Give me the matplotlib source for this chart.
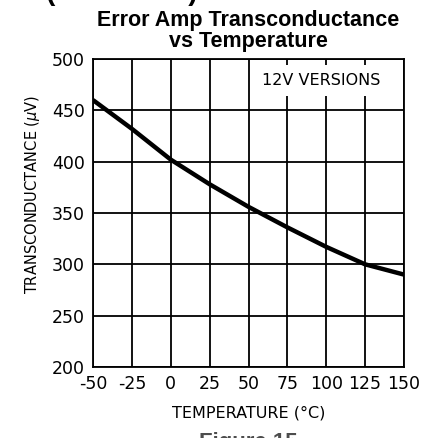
'''
Error amp transconductance vs temperature, datasheet style plot
'''
import matplotlib.pyplot as plt

plt.rcParams['axes.unicode_minus'] = False

temps = [-50, -25, 0, 25, 50, 75, 100, 125, 150]
gm = [460, 432, 402, 378, 356, 336, 317, 300, 290]
x_ticks = [-50, -25, 0, 25, 50, 75, 100, 125, 150]
y_ticks = [200, 250, 300, 350, 400, 450, 500]

W, H = 424, 438
fig = plt.figure(figsize=(W / 100, H / 100), dpi=100)
ax = fig.add_axes([93 / W, 1 - 367 / H, (404 - 93) / W, (367 - 59) / H])

# grid drawn as plain lines so the label box can sit on top of it
for t in x_ticks:
    ax.axvline(t, color='black', lw=1.3, zorder=1)
for v in y_ticks:
    ax.axhline(v, color='black', lw=1.3, zorder=1)

ax.plot(temps, gm, color='black', lw=3.2, zorder=3, solid_capstyle='butt')

ax.text(97, 479, '12V VERSIONS', ha='center', va='center', fontsize=11.5,
        family='DejaVu Sans', zorder=2,
        bbox=dict(boxstyle='square,pad=0.5', fc='white', ec='none'))

ax.set_xlim(-50, 150)
ax.set_ylim(200, 500)
ax.set_xticks(x_ticks)
ax.set_yticks(y_ticks)
ax.tick_params(length=0, labelsize=12.5, pad=6)
for s in ax.spines.values():
    s.set_linewidth(1.3)

ax.set_xlabel('TEMPERATURE (°C)', fontsize=11.5, labelpad=9)
ax.set_ylabel('TRANSCONDUCTANCE ($\\mu$V)', fontsize=10.5)
ax.yaxis.set_label_coords(-0.165, 0.56)
ax.set_title('Error Amp Transconductance\nvs Temperature', fontsize=15.5,
             fontweight='bold', family='Liberation Sans', linespacing=0.95,
             pad=9)

# cut off page text at the edges
fig.text(-0.02, 1 - 6 / H, 'ecs (continued)', fontsize=20, fontweight='bold',
         family='Liberation Sans', va='bottom', ha='left')
fig.text(248 / W, 1 - 432 / H, 'Figure 15', fontsize=16, fontweight='bold',
         family='Liberation Sans', va='top', ha='center', color='0.3')

fig.savefig('out.png', dpi=100)
